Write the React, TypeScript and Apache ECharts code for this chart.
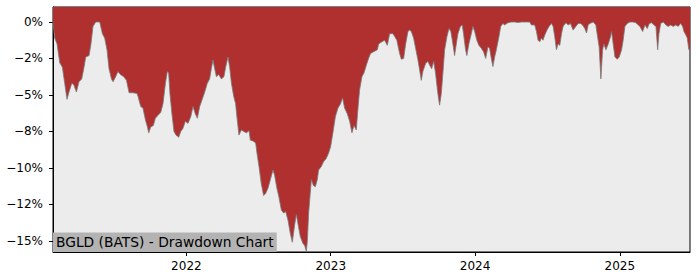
import React, { useEffect, useRef } from "react";
import * as echarts from "echarts";

// Dates as decimal years (e.g. 2022.5 = mid-2022)
const dateYears = [
  2021.076, 2021.088, 2021.104, 2021.123, 2021.141, 2021.157, 2021.173, 2021.187, 2021.206, 2021.22,
  2021.238, 2021.256, 2021.275, 2021.289, 2021.303, 2021.326, 2021.339, 2021.353, 2021.372, 2021.4,
  2021.418, 2021.434, 2021.45, 2021.464, 2021.481, 2021.492, 2021.51, 2021.526, 2021.543, 2021.566,
  2021.585, 2021.603, 2021.63, 2021.658, 2021.665, 2021.684, 2021.699, 2021.716, 2021.73, 2021.739,
  2021.753, 2021.771, 2021.785, 2021.803, 2021.822, 2021.838, 2021.855, 2021.868, 2021.877, 2021.886,
  2021.9, 2021.914, 2021.928, 2021.947, 2021.961, 2021.976, 2021.993, 2022.011, 2022.03, 2022.046,
  2022.062, 2022.076, 2022.092, 2022.108, 2022.127, 2022.145, 2022.161, 2022.173, 2022.184, 2022.196,
  2022.208, 2022.224, 2022.242, 2022.26, 2022.272, 2022.288, 2022.3, 2022.312, 2022.328, 2022.341,
  2022.35, 2022.364, 2022.381, 2022.397, 2022.416, 2022.434, 2022.443, 2022.461, 2022.48, 2022.489,
  2022.503, 2022.519, 2022.535, 2022.549, 2022.565, 2022.582, 2022.6, 2022.611, 2022.627, 2022.641,
  2022.658, 2022.674, 2022.688, 2022.704, 2022.72, 2022.734, 2022.75, 2022.762, 2022.776, 2022.789,
  2022.808, 2022.819, 2022.831, 2022.838, 2022.847, 2022.856, 2022.866, 2022.879, 2022.893, 2022.907,
  2022.916, 2022.935, 2022.949, 2022.969, 2022.985, 2022.999, 2023.015, 2023.032, 2023.05, 2023.068,
  2023.082, 2023.096, 2023.115, 2023.131, 2023.147, 2023.161, 2023.177, 2023.188, 2023.2, 2023.216,
  2023.23, 2023.247, 2023.262, 2023.276, 2023.304, 2023.323, 2023.332, 2023.355, 2023.373, 2023.392,
  2023.408, 2023.431, 2023.443, 2023.458, 2023.477, 2023.489, 2023.505, 2023.519, 2023.535, 2023.546,
  2023.558, 2023.574, 2023.588, 2023.604, 2023.616, 2023.627, 2023.638, 2023.657, 2023.673, 2023.685,
  2023.699, 2023.713, 2023.726, 2023.742, 2023.754, 2023.766, 2023.777, 2023.789, 2023.805, 2023.819,
  2023.832, 2023.846, 2023.858, 2023.87, 2023.881, 2023.898, 2023.911, 2023.92, 2023.934, 2023.943,
  2023.957, 2023.974, 2023.985, 2023.997, 2024.012, 2024.026, 2024.043, 2024.059, 2024.073, 2024.089,
  2024.1, 2024.112, 2024.123, 2024.135, 2024.147, 2024.165, 2024.177, 2024.192, 2024.204, 2024.227,
  2024.251, 2024.274, 2024.296, 2024.32, 2024.355, 2024.377, 2024.389, 2024.412, 2024.424, 2024.435,
  2024.447, 2024.458, 2024.469, 2024.481, 2024.497, 2024.511, 2024.528, 2024.539, 2024.55, 2024.562,
  2024.573, 2024.585, 2024.597, 2024.608, 2024.627, 2024.643, 2024.659, 2024.677, 2024.696, 2024.712,
  2024.728, 2024.742, 2024.758, 2024.77, 2024.781, 2024.793, 2024.816, 2024.834, 2024.843, 2024.857,
  2024.869, 2024.881, 2024.89, 2024.904, 2024.92, 2024.936, 2024.943, 2024.954, 2024.966, 2024.982,
  2024.996, 2025.012, 2025.023, 2025.035, 2025.051, 2025.07, 2025.093, 2025.111, 2025.127, 2025.139,
  2025.158, 2025.174, 2025.19, 2025.204, 2025.22, 2025.236, 2025.25, 2025.262, 2025.271, 2025.283,
  2025.301, 2025.319, 2025.335, 2025.352, 2025.37, 2025.388, 2025.404, 2025.421, 2025.435, 2025.444,
  2025.458, 2025.467, 2025.478, 2025.486,
];

// Drawdown in percent
const drawdown = [
  0, -1.1, -1.5, -2.8, -3.1, -4.2, -5.3, -4.8, -4.2, -4.3,
  -4.8, -4.1, -3.9, -3.2, -2.4, -2.3, -1.5, -0.3, 0, 0,
  -0.8, -1.1, -1.9, -3.2, -3.9, -4.1, -3.75, -3.4, -3.6, -3.75,
  -4.0, -4.85, -4.85, -4.9, -5.1, -5.8, -5.9, -6.7, -7.2, -7.6,
  -7.2, -7.1, -6.6, -6.4, -6.2, -5.6, -4.2, -3.4, -3.5, -4.9,
  -6.3, -7.5, -7.75, -7.9, -7.5, -7.3, -6.8, -6.95, -6.5, -5.8,
  -6.3, -6.6, -5.8, -5.35, -4.8, -4.2, -3.9, -3.2, -2.6, -3.2,
  -3.75, -3.6, -3.9, -3.75, -3.1, -2.4, -3.1, -4.2, -5.1, -5.6,
  -6.5, -7.75, -7.4, -7.5, -7.6, -7.45, -8.1, -8.15, -8.3, -9.0,
  -9.9, -11.1, -11.9, -11.75, -11.4, -10.8, -10.15, -10.5, -11.4, -12.0,
  -12.9, -13.1, -13.0, -13.6, -14.5, -15.1, -13.9, -13.2, -14.0, -14.7,
  -15.2, -15.3, -15.75, -15.0, -13.1, -12.0, -10.8, -11.2, -11.3, -10.8,
  -10.15, -9.9, -9.6, -9.35, -9.0, -8.55, -7.6, -6.5, -5.9, -5.6,
  -5.2, -5.9, -6.3, -6.8, -7.6, -7.1, -7.4, -6.0, -4.65, -3.75,
  -3.5, -2.95, -2.5, -2.15, -2.0, -1.9, -1.5, -1.35, -1.25, -1.6,
  -0.8, -0.8, -1.0, -1.25, -2.15, -2.55, -2.5, -1.5, -0.65, -0.55,
  -0.65, -1.1, -1.8, -2.6, -3.3, -4.0, -3.4, -2.85, -2.7, -2.95,
  -3.2, -2.7, -3.5, -4.9, -5.7, -4.9, -3.5, -1.9, -1.0, -0.45,
  -0.65, -1.5, -2.3, -1.5, -0.8, -0.3, -0.2, -0.8, -1.9, -2.3,
  -1.5, -0.8, -0.3, -0.65, -1.25, -1.6, -1.8, -2.05, -2.5, -1.7,
  -1.8, -2.5, -3.05, -2.4, -1.9, -1.0, -0.3, -0.1, -0.2, -0.05,
  0, 0, -0.03, 0, 0, 0, -0.2, -0.2, -0.65, -1.25,
  -1.35, -1.1, -1.25, -0.9, -0.55, -0.3, -0.1, -0.3, -1.0, -1.9,
  -1.5, -1.6, -0.8, -0.3, -0.05, -0.2, -0.1, -0.55, -0.3, -0.1,
  -0.1, -0.2, -0.45, -0.75, -0.2, -0.1, 0, -0.2, -0.8, -1.7,
  -3.9, -1.9, -1.5, -1.9, -1.5, -1.0, -0.65, -1.5, -2.4, -2.55,
  -2.4, -1.9, -1.25, -0.3, -0.1, 0, 0, -0.05, -0.2, -0.3,
  -0.65, -0.2, -0.45, -0.1, -0.05, -0.2, -0.3, -1.9, -0.8, -0.1,
  0, -0.2, -0.3, -0.2, -0.3, -0.2, -0.3, -0.1, -0.3, -0.65,
  -0.9, -1.1, -1.9, -1.9,
];

const yTickValues = [0, -2.5, -5, -7.5, -10, -12.5, -15];
const yTickLabels = ["0%", "\u22122%", "\u22125%", "\u22128%", "\u221210%", "\u221212%", "\u221215%"];
const xTickYears = [2022, 2023, 2024, 2025];
const titleText = "BGLD (BATS) - Drawdown Chart";

function yearToTs(y: number): number {
  const yr = Math.floor(y);
  const start = Date.UTC(yr, 0, 1);
  const end = Date.UTC(yr + 1, 0, 1);
  return start + (y - yr) * (end - start);
}

export default function App() {
  const ref = useRef<HTMLDivElement>(null);
  useEffect(() => {
    if (!ref.current) return;
    const chart = echarts.init(ref.current, undefined, { renderer: "svg" });
    const data = dateYears.map((y, i) => [yearToTs(y), drawdown[i]]);
    const xTicks = xTickYears.map((y) => Date.UTC(y, 0, 1));
    const font = "DejaVu Sans";
    chart.setOption({
      animation: false,
      title: {
        text: titleText,
        left: 53,
        bottom: 28,
        backgroundColor: "#b3b3b3",
        padding: [2, 3, 2, 3],
        textStyle: {
          fontFamily: font,
          fontSize: 13.8,
          fontWeight: "normal",
          color: "#000",
          lineHeight: 15.5,
        },
      },
      grid: {
        left: 53,
        right: 10,
        top: 7,
        bottom: 28,
        show: true,
        backgroundColor: "#ececec",
        borderColor: "#000",
        borderWidth: 1,
      },
      xAxis: {
        type: "value",
        min: data[0][0],
        max: data[data.length - 1][0],
        axisLine: { show: true, onZero: false, lineStyle: { color: "#000", width: 1 } },
        axisTick: {
          show: true,
          length: 4,
          lineStyle: { color: "#000", width: 1 },
          customValues: xTicks,
        },
        axisLabel: {
          customValues: xTicks,
          formatter: (v: number) => String(new Date(v).getUTCFullYear()),
          fontFamily: font,
          fontSize: 12,
          color: "#000",
          margin: 8,
        },
        splitLine: { show: false },
      },
      yAxis: {
        type: "value",
        min: -15.77,
        max: 1.03,
        axisLine: { show: true, onZero: false, lineStyle: { color: "#000", width: 1 } },
        axisTick: {
          show: true,
          length: 4,
          lineStyle: { color: "#000", width: 1 },
          customValues: yTickValues,
        },
        axisLabel: {
          customValues: yTickValues,
          formatter: (v: number) => {
            const idx = yTickValues.findIndex((t) => Math.abs(t - v) < 1e-6);
            return idx >= 0 ? yTickLabels[idx] : "";
          },
          fontFamily: font,
          fontSize: 12,
          color: "#000",
          margin: 10,
        },
        splitLine: { show: false },
      },
      series: [
        {
          type: "line",
          data,
          symbol: "none",
          showSymbol: false,
          lineStyle: { color: "#7a7a7a", width: 0.8 },
          areaStyle: { color: "#b03030", opacity: 1, origin: "end" },
        },
      ],
    });
    return () => chart.dispose();
  }, []);
  return (
    <div
      ref={ref}
      style={{ position: "fixed", left: 0, top: 0, width: 700, height: 280, background: "#fff" }}
    />
  );
}
